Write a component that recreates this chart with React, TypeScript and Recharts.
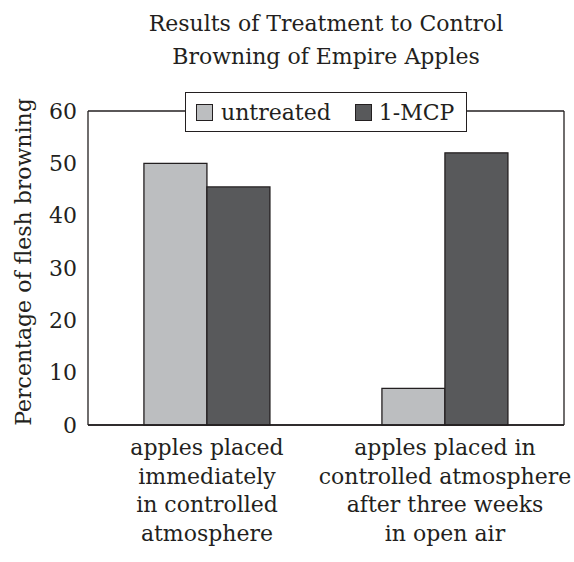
import { BarChart, Bar, XAxis, YAxis, CartesianGrid, Legend, Label } from "recharts"

const categories = [
  "apples placed\nimmediately\nin controlled\natmosphere",
  "apples placed in\ncontrolled atmosphere\nafter three weeks\nin open air",
]
const untreated = [50, 7]
const mcp = [45.5, 52]
const yTicks = [0, 10, 20, 30, 40, 50, 60]

const data = categories.map((name, i) => ({ name, untreated: untreated[i], mcp: mcp[i] }))

const FONT = '"DejaVu Serif", serif'
const INK = "#231f20"
const SIZE = 22

function CategoryTick(props: any) {
  const { x, y, payload } = props
  const lines = String(payload.value).split("\n")
  return (
    <text x={x} y={y} textAnchor="middle" fill={INK} fontFamily={FONT} fontSize={SIZE}>
      {lines.map((line, i) => (
        <tspan key={i} x={x} dy={i === 0 ? 30 : 28.5}>
          {line}
        </tspan>
      ))}
    </text>
  )
}

function LegendBox() {
  const swatch = (color: string) => ({
    width: 15,
    height: 15,
    background: color,
    border: `1px solid ${INK}`,
    display: "inline-block",
  })
  return (
    <div
      style={{
        display: "flex",
        alignItems: "center",
        height: "100%",
        boxSizing: "border-box",
        border: `1.5px solid ${INK}`,
        background: "#fff",
        fontFamily: FONT,
        fontSize: SIZE,
        color: INK,
        paddingLeft: 10,
      }}
    >
      <span style={swatch("#bcbec0")} />
      <span style={{ marginLeft: 8 }}>untreated</span>
      <span style={{ ...swatch("#58595b"), marginLeft: 24 }} />
      <span style={{ marginLeft: 7 }}>1-MCP</span>
    </div>
  )
}

export default function App() {
  return (
    <div style={{ position: "absolute", left: 0, top: 0, width: 574, height: 562, background: "#fff" }}>
      {/* title is centred over the plot area, not the page */}
      <div
        style={{
          position: "absolute",
          top: 7,
          left: 88,
          width: 476,
          textAlign: "center",
          fontFamily: FONT,
          fontSize: 22,
          lineHeight: "33px",
          color: INK,
          whiteSpace: "nowrap",
        }}
      >
        Results of Treatment to Control
        <br />
        Browning of Empire Apples
      </div>
      <BarChart
        width={574}
        height={562}
        data={data}
        margin={{ top: 111, right: 0, bottom: 0, left: 0 }}
        barCategoryGap="23.5%"
        barGap={0}
      >
        <CartesianGrid vertical={false} stroke={INK} strokeWidth={1.3} />
        <XAxis
          dataKey="name"
          height={137}
          axisLine={{ stroke: INK, strokeWidth: 1.3 }}
          tickLine={false}
          tickSize={0}
          tickMargin={0}
          interval={0}
          tick={<CategoryTick />}
        />
        <YAxis
          yAxisId="left"
          width={88}
          domain={[0, 60]}
          ticks={yTicks}
          axisLine={{ stroke: INK, strokeWidth: 1.3 }}
          tickLine={false}
          tickSize={8}
          tickMargin={3}
          tick={{ fill: INK, fontFamily: FONT, fontSize: SIZE }}
        >
          <Label
            content={() => (
              <text
                transform="translate(31, 262) rotate(-90)"
                textAnchor="middle"
                fill={INK}
                fontFamily={FONT}
                fontSize={SIZE}
              >
                Percentage of flesh browning
              </text>
            )}
          />
        </YAxis>
        <YAxis
          yAxisId="right"
          orientation="right"
          width={10}
          domain={[0, 60]}
          ticks={yTicks}
          axisLine={{ stroke: INK, strokeWidth: 1.3 }}
          tickLine={false}
          tick={false}
        />
        <Legend
          layout="horizontal"
          verticalAlign="middle"
          align="center"
          content={() => <LegendBox />}
          wrapperStyle={{ top: 92, left: 185, width: 282, height: 40 }}
        />
        <Bar yAxisId="left" dataKey="untreated" name="untreated" fill="#bcbec0" stroke={INK} strokeWidth={1.3} isAnimationActive={false} />
        <Bar yAxisId="left" dataKey="mcp" name="1-MCP" fill="#58595b" stroke={INK} strokeWidth={1.3} isAnimationActive={false} />
      </BarChart>
    </div>
  )
}
